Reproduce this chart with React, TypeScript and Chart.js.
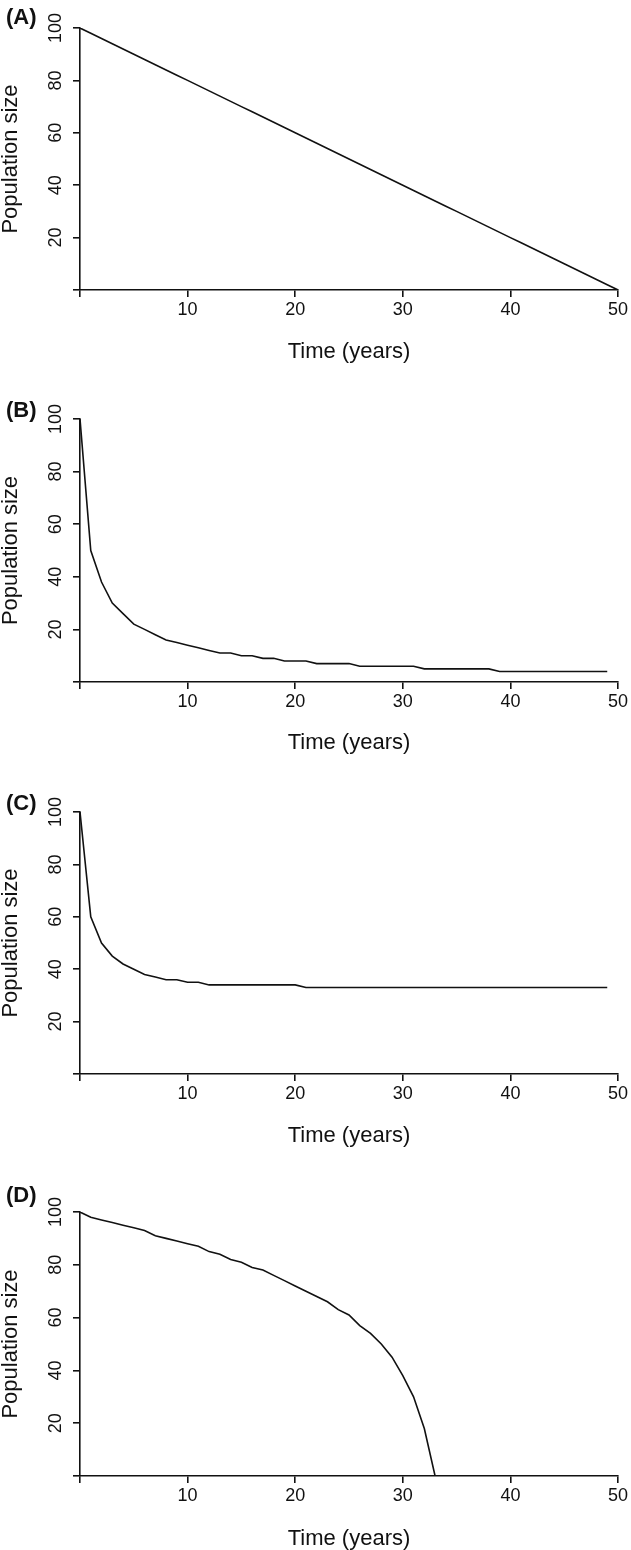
import React, { useEffect, useRef } from 'react';
import { Chart, registerables } from 'chart.js';

Chart.register(...registerables);

// ---------- data ----------
const years = [
  0, 1, 2, 3, 4, 5, 6, 7, 8, 9, 10, 11, 12, 13, 14, 15, 16, 17, 18, 19, 20,
  21, 22, 23, 24, 25, 26, 27, 28, 29, 30, 31, 32, 33, 34, 35, 36, 37, 38, 39,
  40, 41, 42, 43, 44, 45, 46, 47, 48, 49, 50,
];

const popA = [
  100, 98, 96, 94, 92, 90, 88, 86, 84, 82, 80, 78, 76, 74, 72, 70, 68, 66, 64,
  62, 60, 58, 56, 54, 52, 50, 48, 46, 44, 42, 40, 38, 36, 34, 32, 30, 28, 26,
  24, 22, 20, 18, 16, 14, 12, 10, 8, 6, 4, 2, 0,
];

const popB = [
  100, 50, 38, 30, 26, 22, 20, 18, 16, 15, 14, 13, 12, 11, 11, 10, 10, 9, 9, 8,
  8, 8, 7, 7, 7, 7, 6, 6, 6, 6, 6, 6, 5, 5, 5, 5, 5, 5, 5, 4, 4, 4, 4, 4, 4, 4,
  4, 4, 4, 4,
];

const popC = [
  100, 60, 50, 45, 42, 40, 38, 37, 36, 36, 35, 35, 34, 34, 34, 34, 34, 34, 34,
  34, 34, 33, 33, 33, 33, 33, 33, 33, 33, 33, 33, 33, 33, 33, 33, 33, 33, 33,
  33, 33, 33, 33, 33, 33, 33, 33, 33, 33, 33, 33,
];

const popD = [
  100, 98, 97, 96, 95, 94, 93, 91, 90, 89, 88, 87, 85, 84, 82, 81, 79, 78, 76,
  74, 72, 70, 68, 66, 63, 61, 57, 54, 50, 45, 38, 30, 18, 0,
];

const xTicks = [0, 10, 20, 30, 40, 50];
const yTicks = [0, 20, 40, 60, 80, 100];
const panelLabels = ['(A)', '(B)', '(C)', '(D)'];
const xTitle = 'Time (years)';
const yTitle = 'Population size';

// ---------- layout ----------
const FAMILY = '"Liberation Sans", Arial, Helvetica, sans-serif';
const INK = '#111';
const W = 631;

const panels = [
  { top: 0, height: 385, plotTop: 28, axisY: 290, labelY: 18, titleY: 352, series: popA },
  { top: 385, height: 390, plotTop: 419, axisY: 682, labelY: 411, titleY: 743, series: popB },
  { top: 775, height: 390, plotTop: 812, axisY: 1074, labelY: 804, titleY: 1136, series: popC },
  { top: 1165, height: 385, plotTop: 1212, axisY: 1476, labelY: 1196, titleY: 1539, series: popD },
];

const panelLabelPlugin = {
  id: 'panelLabel',
  afterDraw(chart: any, _args: any, opts: any) {
    const ctx = chart.ctx;
    ctx.save();
    ctx.font = `bold 22px ${FAMILY}`;
    ctx.fillStyle = INK;
    ctx.textAlign = 'left';
    ctx.textBaseline = 'middle';
    ctx.fillText(opts.text, opts.x, opts.y);
    ctx.restore();
  },
};

function Panel({ idx }: { idx: number }) {
  const ref = useRef<HTMLCanvasElement | null>(null);
  const p = panels[idx];

  useEffect(() => {
    if (!ref.current) return;
    const titleFont = 22;
    const xAxisHeight = p.top + p.height - p.axisY;
    const titlePadBottom = Math.max(0, p.top + p.height - p.titleY - titleFont / 2);
    const data = p.series.map((v, i) => ({ x: years[i], y: v }));

    const chart = new Chart(ref.current, {
      type: 'line',
      data: {
        datasets: [
          {
            data,
            borderColor: INK,
            borderWidth: 1.6,
            pointRadius: 0,
            tension: 0,
            fill: false,
          },
        ],
      },
      plugins: [panelLabelPlugin],
      options: {
        responsive: false,
        animation: false,
        events: [],
        layout: {
          padding: { top: p.plotTop - p.top, left: 0, right: 13, bottom: 0 },
        },
        plugins: {
          legend: { display: false },
          tooltip: { enabled: false },
          panelLabel: { text: panelLabels[idx], x: 6, y: p.labelY - p.top },
        } as any,
        scales: {
          x: {
            type: 'linear',
            min: 0,
            max: 50,
            afterBuildTicks: (s: any) => {
              s.ticks = xTicks.map((v) => ({ value: v }));
            },
            afterFit: (s: any) => {
              s.height = xAxisHeight;
            },
            ticks: {
              autoSkip: false,
              maxRotation: 0,
              minRotation: 0,
              padding: 2,
              color: INK,
              font: { size: 18, family: FAMILY },
              callback: (v: any) => (v === 0 ? '' : String(v)),
            },
            grid: {
              drawOnChartArea: false,
              drawTicks: true,
              tickLength: 7,
              color: INK,
              lineWidth: 1.6,
            },
            border: { display: true, color: INK, width: 1.6 },
            title: {
              display: true,
              text: xTitle,
              color: INK,
              font: { size: titleFont, family: FAMILY, lineHeight: 1 },
              padding: { top: 0, bottom: titlePadBottom },
            },
          },
          y: {
            type: 'linear',
            min: 0,
            max: 100,
            afterBuildTicks: (s: any) => {
              s.ticks = yTicks.map((v) => ({ value: v }));
            },
            afterFit: (s: any) => {
              s.width = 80;
            },
            ticks: {
              autoSkip: false,
              minRotation: 90,
              maxRotation: 90,
              crossAlign: 'center',
              padding: 1.5,
              color: INK,
              font: { size: 18, family: FAMILY },
              callback: (v: any) => (v === 0 ? '' : String(v)),
            },
            grid: {
              drawOnChartArea: false,
              drawTicks: true,
              tickLength: 7,
              color: INK,
              lineWidth: 1.6,
            },
            border: { display: true, color: INK, width: 1.6 },
            title: {
              display: true,
              text: yTitle,
              color: INK,
              font: { size: titleFont, family: FAMILY, lineHeight: 1 },
              padding: { top: 0, bottom: 0 },
            },
          },
        },
      },
    } as any);

    return () => chart.destroy();
  }, [idx]);

  return (
    <div style={{ position: 'absolute', left: 0, top: p.top, width: W, height: p.height }}>
      <canvas ref={ref} width={W} height={p.height} style={{ width: W, height: p.height, display: 'block' }} />
    </div>
  );
}

export default function App() {
  return (
    <div style={{ position: 'absolute', left: 0, top: 0, width: W, height: 1550, background: '#fff' }}>
      {panels.map((_, i) => (
        <Panel key={i} idx={i} />
      ))}
    </div>
  );
}
